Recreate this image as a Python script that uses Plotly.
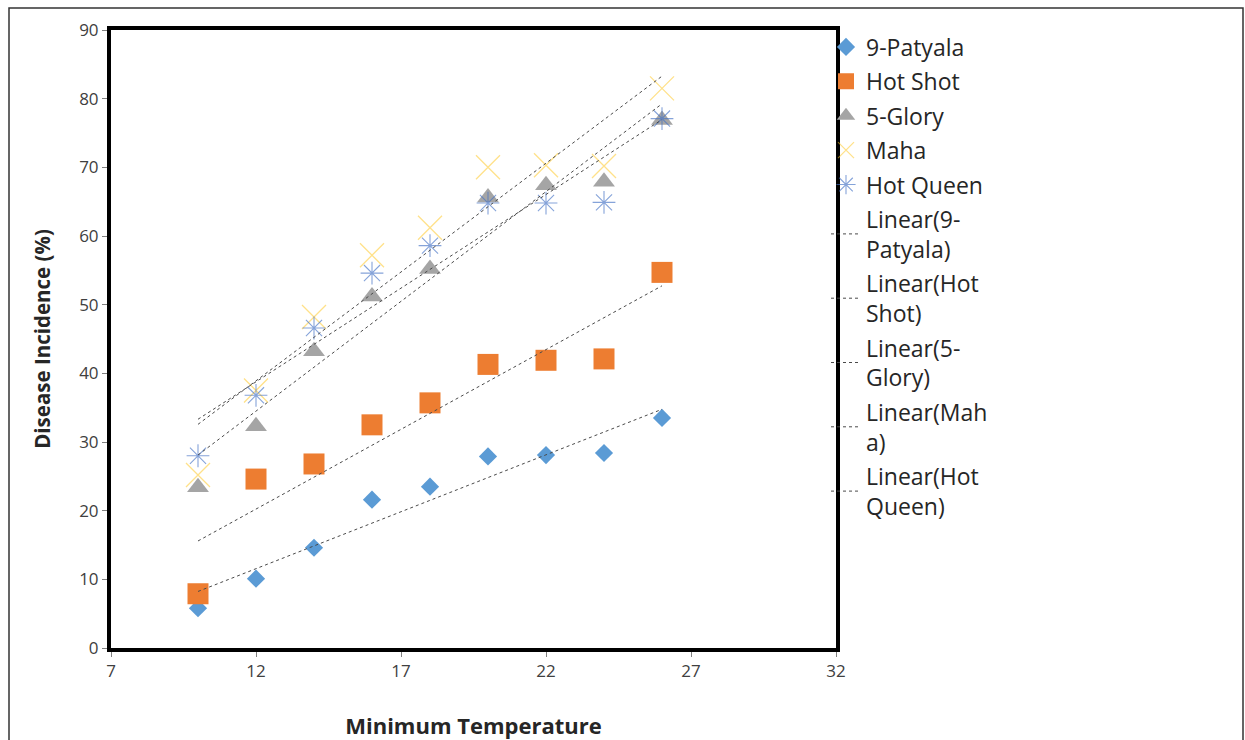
import numpy as np
import plotly.graph_objects as go

# ---- data ----
min_temp = [10, 12, 14, 16, 18, 20, 22, 24, 26]
patyala = [5.8, 10.1, 14.6, 21.6, 23.5, 27.9, 28.1, 28.4, 33.5]
hot_shot = [7.9, 24.6, 26.8, 32.5, 35.7, 41.3, 41.9, 42.1, 54.7]
glory = [23.4, 32.3, 43.2, 51.2, 55.2, 65.6, 67.4, 67.9, 76.9]
maha = [25.2, 37.5, 48.2, 57.2, 61.2, 70.0, 70.3, 70.2, 81.5]
hot_queen = [28.0, 36.8, 46.6, 54.6, 58.6, 64.8, 64.8, 64.9, 77.1]

series_names = ["9-Patyala", "Hot Shot", "5-Glory", "Maha", "Hot Queen"]
trend_names = ["Linear(9-<br>Patyala)", "Linear(Hot<br>Shot)", "Linear(5-<br>Glory)",
               "Linear(Mah<br>a)", "Linear(Hot<br>Queen)"]
x_ticks = [7, 12, 17, 22, 27, 32]
y_ticks = [0, 10, 20, 30, 40, 50, 60, 70, 80, 90]

values = [patyala, hot_shot, glory, maha, hot_queen]

styles = [
    dict(symbol="diamond", size=14, color="#5B9BD5"),
    dict(symbol="square", size=21, color="#ED7D31"),
    dict(symbol="triangle-up", size=19, color="#A5A5A5"),
    dict(symbol="x-thin-open", size=24, color="rgba(255,200,40,0.55)", line=dict(width=1.3, color="rgba(255,200,40,0.55)")),
    dict(symbol="asterisk-open", size=19, color="rgba(68,114,196,0.65)", line=dict(width=1.1, color="rgba(68,114,196,0.65)")),
]

FONT = "'Open Sans', sans-serif"

fig = go.Figure()
for i, (name, vals) in enumerate(zip(series_names, values)):
    st = styles[i]
    mk = dict(symbol=st["symbol"], size=st["size"], color=st["color"])
    if "line" in st:
        mk["line"] = st["line"]
    fig.add_trace(go.Scatter(x=min_temp, y=vals, mode="markers", name=name,
                             marker=mk, legendgroup="s%d" % i))

xs = np.array(min_temp, dtype=float)
for i, (name, vals) in enumerate(zip(trend_names, values)):
    k, b = np.polyfit(xs, np.array(vals, dtype=float), 1)
    xe = [xs.min(), xs.max()]
    fig.add_trace(go.Scatter(x=xe, y=[k * v + b for v in xe], mode="lines", name=name,
                             line=dict(color="#4a4a4a", width=1, dash="dot"),
                             legendgroup="t%d" % i))

fig.update_layout(
    width=1245, height=740,
    margin=dict(l=111, r=409, t=30, b=92, autoexpand=False),
    paper_bgcolor="white", plot_bgcolor="white",
    font=dict(family=FONT, size=17, color="#404040"),
    showlegend=True,
    legend=dict(x=(826 - 111) / 725, y=(648 - 25.5) / 618, xanchor="left", yanchor="top",
                font=dict(size=23, color="#262626", family=FONT),
                itemwidth=30, tracegroupgap=1.5, bgcolor="rgba(0,0,0,0)",
                maxheight=720),
    xaxis=dict(range=[7, 32], tickvals=x_ticks, ticks="outside", ticklen=5, tickcolor="#808080",
               showline=True, linecolor="black", linewidth=4, mirror=True,
               showgrid=False, zeroline=False, automargin=False,
               tickfont=dict(size=17, color="#404040"),
               title=dict(text="<b>Minimum Temperature</b>", standoff=39,
                          font=dict(size=22, color="#262626"))),
    yaxis=dict(range=[0, 90], tickvals=y_ticks, ticks="outside", ticklen=5, tickcolor="#808080",
               showline=True, linecolor="black", linewidth=4, mirror=True,
               showgrid=False, zeroline=False, automargin=False,
               tickfont=dict(size=17, color="#404040"),
               title=dict(text="<b>Disease Incidence (%)</b>", standoff=24,
                          font=dict(size=20.5, color="#262626"))),
    shapes=[dict(type="rect", xref="paper", yref="paper",
                 x0=(9 - 111) / 725, x1=(1243 - 111) / 725,
                 y0=-0.5, y1=(648 - 8) / 618,
                 line=dict(color="#333333", width=1.5), fillcolor="rgba(0,0,0,0)", layer="below")],
)

fig.write_html("out.html")
